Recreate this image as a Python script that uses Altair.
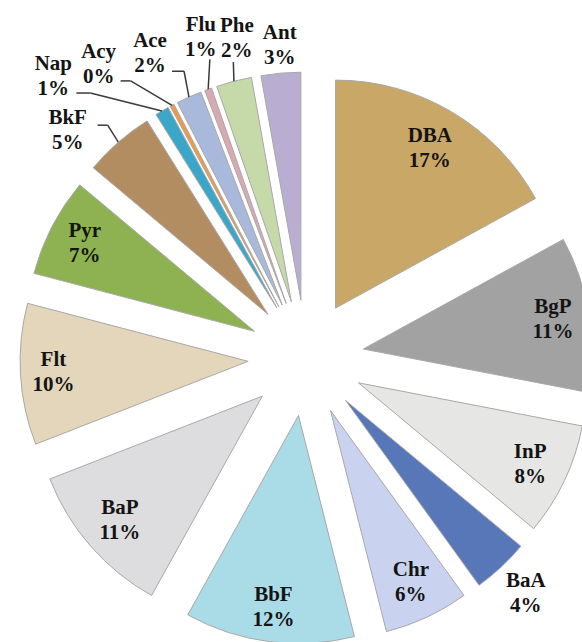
import altair as alt
import pandas as pd

# ---- data (clockwise from 12 o'clock) ----
names = ["DBA", "BgP", "InP", "BaA", "Chr", "BbF", "BaP", "Flt", "Pyr", "BkF",
         "Nap", "Acy", "Ace", "Flu", "Phe", "Ant"]
values = [17, 11, 8, 4, 6, 12, 11, 10, 7, 5, 0.98, 0.3, 1.8, 0.5, 2.5, 2.8]
pct_labels = ["17%", "11%", "8%", "4%", "6%", "12%", "11%", "10%", "7%", "5%",
              "1%", "0%", "2%", "1%", "2%", "3%"]
colors = ["#c9a767", "#a2a2a2", "#e6e6e4", "#5777b8", "#c9d3ef", "#aadce8",
          "#dddddf", "#e3d6ba", "#8eb151", "#b38d62", "#3ba7c8", "#ee9a4a",
          "#a8b9dc", "#d9a9b1", "#c5d9a9", "#b9aed2"]

# ---- label layout (distance from slice tip, angular nudge in degrees) ----
label_r = [185, 192, 190, 264, 190, 194, 189, 195, 191, 272, 322, 302, 284, 279, 269, 256]
label_shift = [0, 0, 0, 0, 0, 0, 0, 0, 0, -6.4, -13.7, -8.7, -3.6, 2.2, 2.9, 0.3]
# leader lines: start offset from label centre, horizontal elbow length
has_leader = [0, 0, 0, 0, 0, 0, 0, 0, 0, 1, 1, 1, 1, 1, 1, 0]
leader_dx = [0, 0, 0, 0, 0, 0, 0, 0, 0, 30, 23, 22, 22, 9, -3.5, 0]
leader_dy = [0, 0, 0, 0, 0, 0, 0, 0, 0, -5, 17, 16.5, 17.5, 21.5, 23.5, 0]
leader_elbow = [0, 0, 0, 0, 0, 0, 0, 0, 0, 10, 14, 10, 12, 0, 0, 0]

CX, CY, EXPLODE, R = 306, 358, 58, 228

df = pd.DataFrame({
    "order": list(range(len(names))),
    "name": names,
    "value": values,
    "pct": pct_labels,
    "lr": label_r,
    "lshift": label_shift,
    "leader": has_leader,
    "ldx": leader_dx,
    "ldy": leader_dy,
    "lel": leader_elbow,
})

base = (
    alt.Chart(df)
    .transform_joinaggregate(total="sum(value)")
    .transform_window(cum="sum(value)", sort=[alt.SortField("order")], frame=[None, 0])
    .transform_calculate(
        a0="(datum.cum - datum.value) / datum.total * 2 * PI",
        a1="datum.cum / datum.total * 2 * PI",
    )
    .transform_calculate(mid="(datum.a0 + datum.a1) / 2")
    .transform_calculate(
        tx=f"{CX} + {EXPLODE} * sin(datum.mid)",
        ty=f"{CY} - {EXPLODE} * cos(datum.mid)",
        la="datum.mid + datum.lshift * PI / 180",
    )
    .transform_calculate(
        lx="datum.tx + datum.lr * sin(datum.la)",
        ly="datum.ty - datum.lr * cos(datum.la)",
        ex=f"datum.tx + {R} * sin(datum.mid)",
        ey=f"datum.ty - {R} * cos(datum.mid)",
    )
    .transform_calculate(
        sx="datum.lx + datum.ldx",
        sy="datum.ly + datum.ldy",
        bx="datum.lx + datum.ldx + datum.lel",
    )
)

color = alt.Color("name:N", scale=alt.Scale(domain=names, range=colors), legend=None)

arcs = base.mark_arc(radius=R, stroke="#a8a8a8", strokeWidth=1).encode(
    theta=alt.Theta("a0:Q", scale=None),
    theta2="a1:Q",
    x=alt.X("tx:Q", scale=None),
    y=alt.Y("ty:Q", scale=None),
    color=color,
)

leaders = base.transform_filter("datum.leader == 1")
seg1 = leaders.mark_rule(color="#3a3a3a", strokeWidth=1.5).encode(
    x=alt.X("sx:Q", scale=None), y=alt.Y("sy:Q", scale=None),
    x2="bx:Q", y2="sy:Q",
)
seg2 = leaders.mark_rule(color="#3a3a3a", strokeWidth=1.5).encode(
    x=alt.X("bx:Q", scale=None), y=alt.Y("sy:Q", scale=None),
    x2="ex:Q", y2="ey:Q",
)

font = dict(font="'Liberation Serif', 'Times New Roman', serif", fontWeight="bold",
            fontSize=21, color="#141414", align="center", baseline="middle")
name_text = base.mark_text(dy=-12.5, **font).encode(
    x=alt.X("lx:Q", scale=None), y=alt.Y("ly:Q", scale=None), text="name:N"
)
pct_text = base.mark_text(dy=12.5, **font).encode(
    x=alt.X("lx:Q", scale=None), y=alt.Y("ly:Q", scale=None), text="pct:N"
)

chart = (
    alt.layer(arcs, seg1, seg2, name_text, pct_text)
    .properties(width=582, height=642, padding=0,
                autosize=alt.AutoSizeParams(type="none"))
    .configure_view(stroke=None)
)

chart.save("out.html", embed_options={"renderer": "svg", "actions": False})
